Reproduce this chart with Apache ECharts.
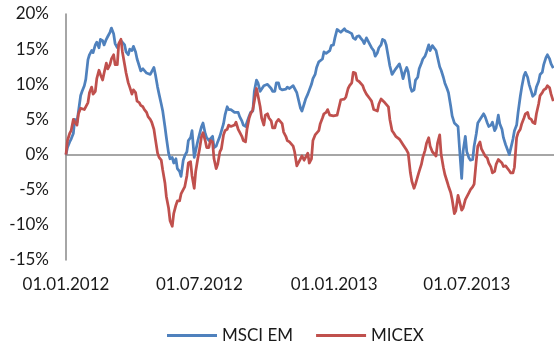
<!DOCTYPE html>
<html>
<head>
<meta charset="utf-8">
<script src="https://cdn.jsdelivr.net/npm/echarts@6/dist/echarts.min.js"></script>
<style>
  html, body { margin: 0; padding: 0; background: #fff; }
  #chart { width: 554px; height: 345px; }
</style>
</head>
<body>
<div id="chart"></div>
<script>
// Observation dates
const dates = [
  '2012-01-01','2012-01-03','2012-01-06','2012-01-08','2012-01-11','2012-01-13','2012-01-16','2012-01-18','2012-01-21','2012-01-23','2012-01-26','2012-01-28','2012-01-31',
  '2012-02-02','2012-02-05','2012-02-07','2012-02-10','2012-02-12','2012-02-15','2012-02-17','2012-02-20','2012-02-22','2012-02-25','2012-02-27',
  '2012-03-01','2012-03-03','2012-03-06','2012-03-08','2012-03-11','2012-03-13','2012-03-16','2012-03-18','2012-03-21','2012-03-23','2012-03-26','2012-03-28','2012-03-31',
  '2012-04-02','2012-04-05','2012-04-07','2012-04-10','2012-04-12','2012-04-15','2012-04-17','2012-04-20','2012-04-22','2012-04-25','2012-04-27','2012-04-30',
  '2012-05-02','2012-05-05','2012-05-07','2012-05-10','2012-05-12','2012-05-15','2012-05-17','2012-05-20','2012-05-22','2012-05-25','2012-05-27','2012-05-30',
  '2012-06-01','2012-06-04','2012-06-06','2012-06-09','2012-06-11','2012-06-14','2012-06-16','2012-06-19','2012-06-21','2012-06-24','2012-06-26','2012-06-29',
  '2012-07-01','2012-07-04','2012-07-06','2012-07-09','2012-07-11','2012-07-14','2012-07-16','2012-07-19','2012-07-21','2012-07-24','2012-07-26','2012-07-29','2012-07-31',
  '2012-08-03','2012-08-05','2012-08-08','2012-08-10','2012-08-13','2012-08-15','2012-08-18','2012-08-20','2012-08-23','2012-08-25','2012-08-28','2012-08-30',
  '2012-09-02','2012-09-04','2012-09-07','2012-09-09','2012-09-12','2012-09-14','2012-09-17','2012-09-19','2012-09-22','2012-09-24','2012-09-27','2012-09-29',
  '2012-10-02','2012-10-04','2012-10-07','2012-10-09','2012-10-12','2012-10-14','2012-10-17','2012-10-19','2012-10-22','2012-10-24','2012-10-27','2012-10-29',
  '2012-11-01','2012-11-03','2012-11-06','2012-11-08','2012-11-11','2012-11-13','2012-11-16','2012-11-18','2012-11-21','2012-11-23','2012-11-26','2012-11-28',
  '2012-12-01','2012-12-03','2012-12-06','2012-12-08','2012-12-11','2012-12-13','2012-12-16','2012-12-18','2012-12-21','2012-12-23','2012-12-26','2012-12-28','2012-12-31',
  '2013-01-02','2013-01-05','2013-01-07','2013-01-10','2013-01-12','2013-01-15','2013-01-17','2013-01-20','2013-01-22','2013-01-25','2013-01-27','2013-01-30',
  '2013-02-01','2013-02-04','2013-02-06','2013-02-09','2013-02-11','2013-02-14','2013-02-16','2013-02-19','2013-02-21','2013-02-24','2013-02-26',
  '2013-03-01','2013-03-03','2013-03-06','2013-03-08','2013-03-11','2013-03-13','2013-03-16','2013-03-18','2013-03-21','2013-03-23','2013-03-26','2013-03-28','2013-03-31',
  '2013-04-02','2013-04-05','2013-04-07','2013-04-10','2013-04-12','2013-04-15','2013-04-17','2013-04-20','2013-04-22','2013-04-25','2013-04-27','2013-04-30',
  '2013-05-02','2013-05-05','2013-05-07','2013-05-10','2013-05-12','2013-05-15','2013-05-17','2013-05-20','2013-05-22','2013-05-25','2013-05-27','2013-05-30',
  '2013-06-01','2013-06-04','2013-06-06','2013-06-09','2013-06-11','2013-06-14','2013-06-16','2013-06-19','2013-06-21','2013-06-24','2013-06-26','2013-06-29',
  '2013-07-01','2013-07-04','2013-07-06','2013-07-09','2013-07-11','2013-07-14','2013-07-16','2013-07-19','2013-07-21','2013-07-24','2013-07-26','2013-07-29','2013-07-31',
  '2013-08-03','2013-08-05','2013-08-08','2013-08-10','2013-08-13','2013-08-15','2013-08-18','2013-08-20','2013-08-23','2013-08-25','2013-08-28','2013-08-30',
  '2013-09-02','2013-09-04','2013-09-07','2013-09-09','2013-09-12','2013-09-14','2013-09-17','2013-09-19','2013-09-22','2013-09-24','2013-09-27','2013-09-29',
  '2013-10-02','2013-10-04','2013-10-07','2013-10-09','2013-10-12','2013-10-14','2013-10-17','2013-10-19','2013-10-22','2013-10-24','2013-10-27'
];

// Cumulative change since 01.01.2012, %
const msciEm = [
  0,1.0, 1.8,2.2, 3.0,5.0, 4.6,4.4, 8.4,9.0, 9.8,10.7, 13.5,14.2, 14.8,14.5, 15.6,16.0, 15.2,16.4,
  16.2,15.6, 16.4,16.8, 17.4,18.0, 17.2,15.8, 15.2,15.4, 16.2,16.0, 15.6,14.6, 14.2,15.0, 14.8,15.4, 14.6,13.6,
  12.6,11.9, 12.2,12.4, 11.6,11.7, 11.4,11.8, 12.4,11.4, 9.6,8.6, 7.2,6.2, 4.0,2.4, 0.2,-0.6, -0.4,-1.2,
  -0.6,-2.0, -2.4,-3.1, -0.8,-0.2, 0.4,2.0, 2.4,3.4, -0.4,-0.6, 2.0,2.8, 4.0,4.5, 3.0,2.4, 2.0,2.2,
  2.6,1.0, 1.2,1.8, 2.6,2.4, 4.4,5.6, 6.8,6.4, 6.4,6.6, 6.0,5.8, 6.0,5.4, 4.8,4.2, 4.0,4.6,
  5.5,6.0, 6.2,9.0, 10.6,10.2, 9.0,9.0, 9.8,9.6, 10.0,10.2, 9.4,9.0, 9.0,10.2, 10.2,9.4, 9.2,9.0,
  9.3,9.6, 9.4,9.2, 9.8,9.4, 8.8,8.6, 6.6,6.2, 7.2,7.9, 8.6,8.8, 10.0,10.8, 11.4,12.4, 13.2,13.4,
  13.6,14.6, 14.4,14.2, 14.8,15.5, 15.6,16.6, 17.8,17.6, 17.4,17.2, 17.9,17.6, 17.5,17.6, 17.2,16.6, 16.4,16.8,
  16.9,16.6, 16.2,15.8, 16.6,16.8, 15.6,15.2, 14.8,14.0, 14.5,15.2, 15.6,16.4, 16.2,15.6, 13.8,12.6, 11.4,11.2,
  12.2,12.4, 12.9,12.2, 10.8,11.6, 12.4,11.8, 9.6,9.0, 9.2,10.6, 11.0,12.2, 13.0,13.6, 14.0,14.6, 15.6,14.8,
  15.5,15.4, 14.8,14.6, 12.5,12.0, 11.0,10.2, 9.4,8.8, 6.9,5.5, 4.5,4.4, 4.0,1.0, -3.4,0.5, 2.6,0.4,
  -0.5,-0.8, -0.7,1.2, 3.0,4.5, 5.0,5.2, 5.8,5.4, 4.5,4.0, 4.2,4.6, 3.4,3.8, 5.6,4.4, 3.6,2.4,
  1.4,1.2, 0,-0.2, 2.2,3.4, 4.2,6.0, 8.3,9.6, 11.2,11.7, 11.0,10.0, 9.0,8.3, 8.6,9.6, 10.4,11.4,
  11.7,12.8, 13.8,14.2, 13.6,12.9, 12.3
];

const micex = [
  0,2.0, 3.0,3.4, 5.0,4.6, 4.2,5.8, 6.6,6.8, 6.4,6.2, 7.4,8.8, 9.6,8.6, 9.0,10.8, 12.0,11.4,
  10.6,11.6, 13.0,12.2, 12.8,13.6, 14.2,12.8, 12.8,15.8, 16.4,14.6, 12.8,11.6, 10.2,9.6, 8.6,9.2, 8.8,7.6,
  7.4,7.0, 6.8,6.4, 6.0,5.4, 5.0,4.6, 3.6,2.2, 0.2,-0.4, -0.8,-2.2, -4.0,-6.0, -7.6,-9.4, -10.2,-8.4,
  -7.2,-6.6, -6.6,-5.6, -5.0,-4.6, -3.0,-1.2, -1.0,-3.0, -4.8,-2.4, -0.5,0.6, 2.6,3.1, 2.0,1.0, 1.0,2.0,
  1.8,-0.6, -2.0,-1.4, 0.4,0.8, 2.8,3.4, 3.6,4.2, 4.0,4.0, 4.2,4.6, 3.6,3.2, 2.6,2.0, 1.8,3.6,
  5.2,5.8, 6.4,7.6, 9.4,8.4, 6.8,5.2, 4.2,5.6, 5.8,5.2, 4.8,3.8, 3.8,4.6, 5.0,4.8, 4.4,3.2,
  2.6,2.0, 1.8,1.6, 1.2,0.4, -1.6,-1.8, -0.6,-0.2, -0.8,-1.0, 0.2,-1.2, -0.6,2.0, 2.8,3.0, 3.4,4.4,
  5.2,5.8, 6.0,6.4, 5.6,5.4, 5.5,5.6, 5.6,5.4, 7.8,7.9, 7.9,8.2, 9.4,9.8, 10.2,11.7, 11.6,10.6,
  10.4,10.2, 9.8,9.2, 8.6,8.4, 7.9,7.6, 6.4,6.4, 6.2,7.2, 7.9,7.9, 7.4,7.2, 6.8,5.0, 3.4,3.1,
  2.6,2.6, 2.2,1.9, 1.4,1.2, 0.6,0.2, -2.6,-3.8, -4.8,-4.2, -3.1,-2.4, -1.4,-0.4, 0.6,1.6, 2.4,1.2,
  0.4,0.2, -0.2,1.6, 2.8,0.0, -1.8,-2.8, -3.8,-4.5, -5.4,-6.4, -8.4,-8.0, -5.8,-5.6, -7.9,-7.6, -6.4,-6.2,
  -5.4,-5.0, -4.6,-4.2, -0.8,1.2, 1.8,0.8, 0.2,-0.2, -0.5,-1.2, -1.8,-2.6, -2.4,-1.4, -0.7,-0.8, -1.2,-1.7,
  -1.6,-1.4, -2.3,-2.6, -2.6,-1.8, 2.4,3.1, 3.6,4.4, 5.2,5.8, 6.0,5.2, 5.0,4.6, 4.4,5.8, 7.2,8.4,
  8.8,9.2, 9.4,9.8, 9.5,8.6, 7.6
];

const seriesNames = ['MSCI EM', 'MICEX'];
const xLabelDates = ['2012-01-01', '2012-07-01', '2013-01-01', '2013-07-01'];
const xRange = ['2012-01-01', '2013-10-28'];

function ts(s) {
  const [y, m, d] = s.split('-').map(Number);
  return Date.UTC(y, m - 1, d);
}
function fmtDate(v) {
  const dt = new Date(v);
  const p = n => String(n).padStart(2, '0');
  return p(dt.getUTCDate()) + '.' + p(dt.getUTCMonth() + 1) + '.' + dt.getUTCFullYear();
}

const FONT = 'Lato';
const TEXT = '#1a1a1a';
const AXIS_GRAY = '#898989';
const xMin = ts(xRange[0]);
const xMax = ts(xRange[1]);

const chart = echarts.init(document.getElementById('chart'), null, { renderer: 'canvas' });
chart.setOption({
  animation: false,
  backgroundColor: '#fff',
  textStyle: { fontFamily: FONT },
  grid: { left: 66, right: 0, top: 14, bottom: 85, containLabel: false },
  legend: {
    data: seriesNames,
    left: 162,
    top: 322,
    icon: 'rect',
    itemWidth: 50,
    itemHeight: 3,
    itemGap: 23,
    textStyle: { fontFamily: FONT, fontSize: 17, color: TEXT }
  },
  xAxis: [
    {
      // zero line
      type: 'value', min: xMin, max: xMax,
      axisLine: { show: true, onZero: true, lineStyle: { color: AXIS_GRAY, width: 1.5 } },
      axisTick: { show: false },
      axisLabel: { show: false },
      splitLine: { show: false }
    },
    {
      // date labels along the bottom
      type: 'value', min: xMin, max: xMax, position: 'bottom',
      axisLine: { show: false, onZero: false },
      axisTick: { show: false },
      splitLine: { show: false },
      axisLabel: {
        customValues: xLabelDates.map(ts),
        formatter: fmtDate,
        fontFamily: FONT, fontSize: 17, color: TEXT, margin: 16
      }
    }
  ],
  yAxis: {
    type: 'value', min: -15, max: 20, interval: 5,
    axisLine: { show: true, lineStyle: { color: AXIS_GRAY, width: 1.5 } },
    axisTick: { show: false },
    splitLine: { show: false },
    axisLabel: { formatter: '{value}%', fontFamily: FONT, fontSize: 17, color: TEXT, margin: 17 }
  },
  series: [
    {
      name: seriesNames[0], type: 'line', xAxisIndex: 0,
      data: dates.map((d, i) => [ts(d), msciEm[i]]),
      showSymbol: false, symbol: 'none',
      lineStyle: { color: '#4F81BD', width: 2.75, join: 'round' },
      itemStyle: { color: '#4F81BD' }
    },
    {
      name: seriesNames[1], type: 'line', xAxisIndex: 0,
      data: dates.map((d, i) => [ts(d), micex[i]]),
      showSymbol: false, symbol: 'none',
      lineStyle: { color: '#C0504D', width: 2.75, join: 'round' },
      itemStyle: { color: '#C0504D' }
    }
  ]
});
</script>
</body>
</html>
